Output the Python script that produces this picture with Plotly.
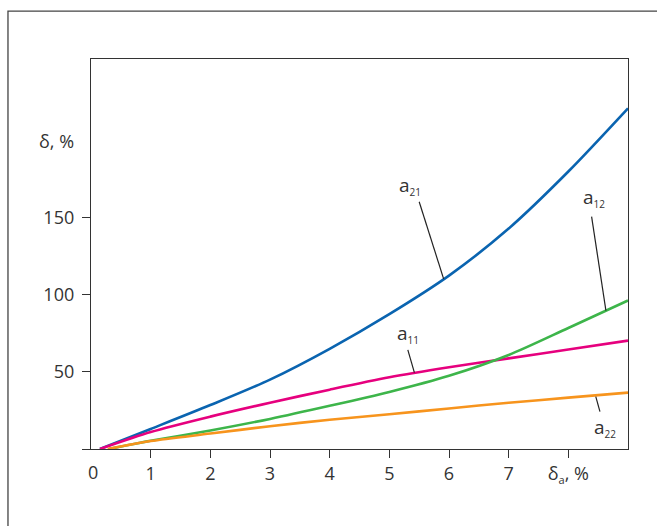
import plotly.graph_objects as go

# Curve data: deviation δ (%) versus δa (%)
x_a21 = [0.15, 1, 2, 3, 4, 5, 6, 7, 8, 9]
y_a21 = [0, 13, 28.5, 45, 65, 87.5, 112.5, 143, 180, 221]

x_a11 = [0.15, 1, 2, 3, 4, 5, 6, 7, 8, 9]
y_a11 = [0, 11, 21, 30, 38.5, 46.5, 53, 58.8, 64.5, 70.3]

x_a12 = [0.3, 1, 2, 3, 4, 5, 6, 7, 8, 9]
y_a12 = [0, 5.3, 12, 19.5, 28, 37, 47.5, 61, 78.5, 96.3]

x_a22 = [0.28, 1, 2, 3, 4, 5, 6, 7, 8, 9]
y_a22 = [0, 5.2, 10, 14.8, 19, 22.5, 26.3, 30, 33.3, 36.6]

x_tickvals = [1, 2, 3, 4, 5, 6, 7, 8]
x_ticktext = ["1", "2", "3", "4", "5", "6", "7",
              "δ<sub><span style='font-size:11px'>a</span></sub>, %"]
y_tickvals = [0, 50, 100, 150]
y_ticktext = ["", "50", "100", "150"]

FONT = "Open Sans"
TXT = "#333333"

series = [
    (x_a21, y_a21, "#0a64b0", "a21"),
    (x_a11, y_a11, "#e6007e", "a11"),
    (x_a12, y_a12, "#3db54a", "a12"),
    (x_a22, y_a22, "#f7941d", "a22"),
]

fig = go.Figure()
for xs, ys, col, name in series:
    fig.add_trace(go.Scatter(x=xs, y=ys, mode="lines", name=name,
                             line=dict(color=col, width=2.6, shape="spline", smoothing=0.8),
                             hoverinfo="skip"))

# Curve labels with leader lines: (subscript, text x, text y, line start, line end)
labels = [
    ("21", 5.35, 171, (5.50, 160.4), (5.91, 110.4)),
    ("12", 8.43, 163, (8.39, 150.8), (8.63, 89.8)),
    ("11", 5.32, 75, (5.31, 64.3), (5.42, 49.5)),
    ("22", 8.62, 14, (8.46, 34.0), (8.53, 24.2)),
]
for sub, tx, ty, p0, p1 in labels:
    fig.add_annotation(x=tx, y=ty, xref="x", yref="y", showarrow=False,
                       text=f"a<sub><span style='font-size:10px'>{sub}</span></sub>",
                       font=dict(family=FONT, size=19, color=TXT))
    fig.add_shape(type="line", xref="x", yref="y", x0=p0[0], y0=p0[1], x1=p1[0], y1=p1[1],
                  line=dict(color="#222222", width=1.2))

# y-axis caption placed level with the tick labels
fig.add_annotation(x=0, y=200, xref="paper", yref="y", xanchor="right", xshift=-15,
                   showarrow=False, text="δ, %", font=dict(family=FONT, size=18, color=TXT))
# origin label on the x axis
fig.add_annotation(x=0, y=0, xref="x", yref="paper", yanchor="top", xshift=2, yshift=-9,
                   showarrow=False, text="0", font=dict(family=FONT, size=18, color=TXT))

# outer frame around the figure
fig.add_shape(type="rect", xref="paper", yref="paper", x0=-0.1546, x1=1.3, y0=-0.4, y1=1.123,
              line=dict(color="#444444", width=1.3))

fig.update_xaxes(range=[0, 9], tickvals=x_tickvals, ticktext=x_ticktext,
                 ticks="outside", ticklen=8, tickwidth=1.3, tickcolor="#333333",
                 showline=True, linecolor="#333333", linewidth=1.3, mirror=True,
                 showgrid=False, zeroline=False,
                 tickfont=dict(family=FONT, size=18, color=TXT))
fig.update_yaxes(range=[0, 253], tickvals=y_tickvals, ticktext=y_ticktext,
                 ticks="outside", ticklen=8, tickwidth=1.3, tickcolor="#333333",
                 showline=True, linecolor="#333333", linewidth=1.3, mirror=True,
                 showgrid=False, zeroline=False, ticklabelstandoff=4,
                 tickfont=dict(family=FONT, size=18, color=TXT))

fig.update_layout(width=657, height=526, showlegend=False,
                  margin=dict(l=91, r=29, t=59, b=77),
                  plot_bgcolor="white", paper_bgcolor="white")

fig.write_html("out.html")
